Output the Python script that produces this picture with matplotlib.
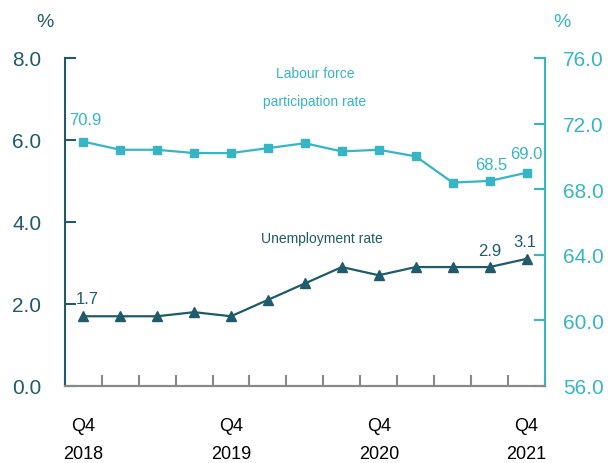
import numpy as np
import matplotlib
matplotlib.use('Agg')
import matplotlib.pyplot as plt

# data
quarters = ['Q4\n2018', '', '', '', 'Q4\n2019', '', '', '', 'Q4\n2020', '', '', '', 'Q4\n2021']
unemployment = [1.7, 1.7, 1.7, 1.8, 1.7, 2.1, 2.5, 2.9, 2.7, 2.9, 2.9, 2.9, 3.1]
participation = [70.9, 70.4, 70.4, 70.2, 70.2, 70.5, 70.8, 70.3, 70.4, 70.0, 68.4, 68.5, 69.0]

dark = '#1f5b6b'
light = '#36b5c5'
plt.rcParams['font.family'] = ['Liberation Sans Narrow', 'Liberation Sans', 'DejaVu Sans']

fig = plt.figure(figsize=(6.11, 4.64), dpi=100)
ax = fig.add_axes([0.106, 0.166, 0.786, 0.707])
ax2 = ax.twinx()

x = np.arange(len(quarters))
ax.plot(x, unemployment, color=dark, marker='^', markersize=6.5, lw=1.6, zorder=3)
ax2.plot(x, participation, color=light, marker='s', markersize=5.5, lw=1.6, zorder=3)

ax.set_xlim(-0.5, len(quarters) - 0.5)
ax.set_ylim(0, 8)
ax2.set_ylim(56, 76)
ax.set_yticks([0, 2, 4, 6, 8])
ax.set_yticklabels(['0.0', '2.0', '4.0', '6.0', '8.0'])
ax2.set_yticks([56, 60, 64, 68, 72, 76])
ax2.set_yticklabels(['56.0', '60.0', '64.0', '68.0', '72.0', '76.0'])

# x ticks at category edges, labels at centres
ax.set_xticks(np.arange(len(quarters) + 1) - 0.5)
ax.set_xticklabels([])
ax.set_xticks(x, minor=True)
ax.set_xticklabels(quarters, minor=True, fontsize=13, linespacing=1.9)
ax.tick_params(axis='x', which='minor', length=0, pad=22)
ax.tick_params(axis='x', which='major', direction='in', length=8, color='#888888', width=1.5)

ax.tick_params(axis='y', direction='in', length=8, color=dark, labelcolor=dark, labelsize=15, width=1.5, pad=17)
ax2.tick_params(axis='y', direction='in', length=8, color=light, labelcolor=light, labelsize=15, width=1.5, pad=13)

for a in (ax, ax2):
    a.spines['top'].set_visible(False)
    a.spines['bottom'].set_color('#888888')
    a.spines['bottom'].set_linewidth(1.5)
ax.spines['left'].set_color(dark)
ax.spines['left'].set_linewidth(1.5)
ax2.spines['right'].set_color(light)
ax2.spines['right'].set_linewidth(1.5)
ax.spines['right'].set_visible(False)
ax2.spines['left'].set_visible(False)

fig.text(0.073, 0.952, '%', color=dark, fontsize=14, ha='center', va='center')
fig.text(0.920, 0.952, '%', color=light, fontsize=14, ha='center', va='center')

# series labels
ax2.text(6.27, 75.1, 'Labour force', color=light, fontsize=10, ha='center', va='center')
ax2.text(6.27, 73.4, 'participation rate', color=light, fontsize=10, ha='center', va='center')
ax.text(6.45, 3.62, 'Unemployment rate', color=dark, fontsize=10, ha='center', va='center')

# value labels
ax2.text(0.05, participation[0] + 1.35, '70.9', color=light, fontsize=12, ha='center', va='center')
ax2.text(11.05, participation[11] + 1.0, '68.5', color=light, fontsize=12, ha='center', va='center')
ax2.text(12.0, participation[12] + 1.2, '69.0', color=light, fontsize=12, ha='center', va='center')
ax.text(0.1, unemployment[0] + 0.44, '1.7', color=dark, fontsize=12, ha='center', va='center')
ax.text(11.0, unemployment[11] + 0.4, '2.9', color=dark, fontsize=12, ha='center', va='center')
ax.text(11.95, unemployment[12] + 0.43, '3.1', color=dark, fontsize=12, ha='center', va='center')

fig.savefig('out.png', dpi=100)
